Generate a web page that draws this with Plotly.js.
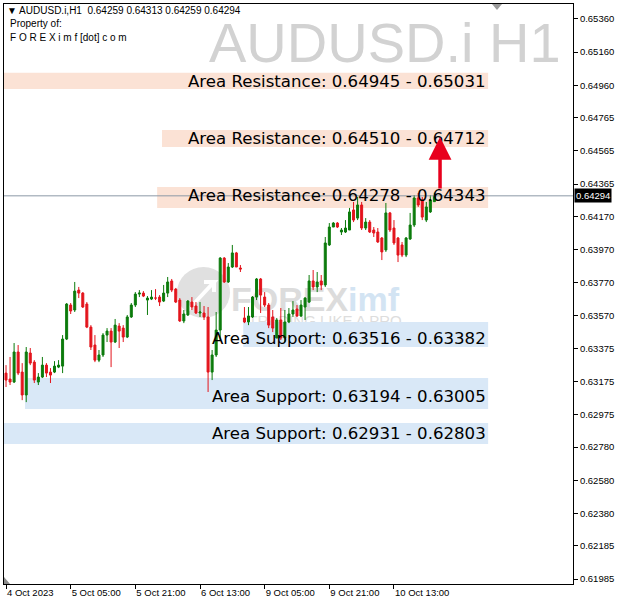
<!DOCTYPE html>
<html>
<head>
<meta charset="utf-8">
<script src="https://cdn.plot.ly/plotly-3.0.1.min.js"></script>
<style>
html,body{margin:0;padding:0;background:#fff;}
#chart{width:620px;height:606px;}
</style>
</head>
<body>
<div id="chart"></div>
<script>
// ---- data (AUDUSD.i H1, bar index 0 = 4 Oct 2023 13:00) ----
const openP = [
0.63226,0.63190,0.63172,0.63353,0.63232,0.63094,0.63347,0.63292,0.63172,0.63202,
0.63274,0.63232,0.63232,0.63262,0.63268,0.63431,0.63636,0.63606,0.63726,0.63708,
0.63642,0.63503,0.63395,0.63304,0.63335,0.63455,0.63479,0.63413,0.63509,0.63497,
0.63443,0.63564,0.63636,0.63702,0.63708,0.63666,0.63672,0.63678,0.63684,0.63660,
0.63708,0.63781,0.63732,0.63666,0.63540,0.63576,0.63654,0.63630,0.63588,0.63588,
0.63564,0.63232,0.63335,0.63485,0.63919,0.63775,0.63865,0.63950,0.63859,0.63558,
0.63534,0.63564,0.63684,0.63793,0.63684,0.63636,0.63564,0.63437,0.63546,0.63437,
0.63534,0.63582,0.63612,0.63570,0.63624,0.63654,0.63781,0.63745,0.63781,0.63757,
0.63998,0.64106,0.64130,0.64076,0.64076,0.64088,0.64209,0.64160,0.64239,0.64100,
0.64136,0.64088,0.64076,0.64040,0.63968,0.64191,0.64100,0.64040,0.63998,0.63937,
0.64034,0.64118,0.64281,0.64269,0.64148,0.64197,0.64259];
const highP = [
0.63274,0.63323,0.63407,0.63395,0.63286,0.63383,0.63377,0.63304,0.63226,0.63323,
0.63286,0.63256,0.63298,0.63304,0.63455,0.63648,0.63648,0.63775,0.63745,0.63714,
0.63654,0.63515,0.63455,0.63365,0.63467,0.63497,0.63497,0.63552,0.63527,0.63515,
0.63576,0.63648,0.63714,0.63726,0.63720,0.63690,0.63726,0.63732,0.63696,0.63757,
0.63805,0.63793,0.63739,0.63678,0.63606,0.63666,0.63684,0.63654,0.63654,0.63630,
0.63624,0.63365,0.63594,0.63925,0.63925,0.63889,0.63998,0.63956,0.63877,0.63624,
0.63624,0.63690,0.63799,0.63799,0.63714,0.63648,0.63606,0.63558,0.63618,0.63606,
0.63618,0.63660,0.63636,0.63666,0.63684,0.63817,0.63847,0.63835,0.63817,0.64046,
0.64130,0.64136,0.64136,0.64100,0.64148,0.64221,0.64257,0.64287,0.64257,0.64160,
0.64148,0.64106,0.64100,0.64046,0.64251,0.64197,0.64148,0.64046,0.64016,0.64046,
0.64191,0.64299,0.64311,0.64287,0.64257,0.64299,0.64313];
const lowP = [
0.63142,0.63154,0.63166,0.63214,0.63063,0.63051,0.63274,0.63166,0.63154,0.63196,
0.63202,0.63166,0.63226,0.63256,0.63226,0.63425,0.63582,0.63594,0.63678,0.63618,
0.63497,0.63365,0.63292,0.63292,0.63323,0.63413,0.63262,0.63407,0.63377,0.63413,
0.63437,0.63558,0.63624,0.63684,0.63684,0.63576,0.63666,0.63666,0.63630,0.63654,
0.63684,0.63714,0.63648,0.63534,0.63527,0.63570,0.63606,0.63582,0.63564,0.63546,
0.63112,0.63184,0.63323,0.63425,0.63769,0.63769,0.63859,0.63865,0.63835,0.63527,
0.63515,0.63558,0.63666,0.63588,0.63624,0.63497,0.63473,0.63437,0.63425,0.63413,
0.63527,0.63564,0.63564,0.63564,0.63546,0.63648,0.63726,0.63714,0.63726,0.63745,
0.63992,0.64106,0.64100,0.64058,0.64070,0.64088,0.64136,0.64148,0.64088,0.64088,
0.64070,0.64046,0.64010,0.63907,0.63956,0.64076,0.63998,0.63895,0.63925,0.63925,
0.64028,0.64106,0.64227,0.64148,0.64136,0.64191,0.64259];
const closeP = [
0.63184,0.63172,0.63353,0.63226,0.63094,0.63353,0.63286,0.63184,0.63202,0.63274,
0.63226,0.63214,0.63268,0.63274,0.63431,0.63642,0.63600,0.63720,0.63708,0.63624,
0.63503,0.63383,0.63304,0.63335,0.63455,0.63479,0.63413,0.63515,0.63479,0.63443,
0.63564,0.63636,0.63702,0.63708,0.63690,0.63678,0.63684,0.63678,0.63654,0.63708,
0.63775,0.63726,0.63654,0.63540,0.63582,0.63660,0.63624,0.63588,0.63594,0.63564,
0.63232,0.63335,0.63485,0.63919,0.63775,0.63865,0.63950,0.63865,0.63853,0.63534,
0.63570,0.63684,0.63793,0.63696,0.63636,0.63515,0.63497,0.63546,0.63437,0.63534,
0.63582,0.63606,0.63570,0.63636,0.63678,0.63781,0.63745,0.63775,0.63757,0.64010,
0.64106,0.64130,0.64106,0.64088,0.64100,0.64197,0.64148,0.64239,0.64100,0.64136,
0.64076,0.64070,0.64016,0.63956,0.64191,0.64088,0.64010,0.63937,0.63937,0.64040,
0.64118,0.64281,0.64239,0.64166,0.64227,0.64269,0.64294];

// x-axis tick labels (bar index -> label)
const xTickIdx  = [0, 16, 32, 48, 64, 80, 96];
const xTickText = ["4 Oct 2023","5 Oct 05:00","5 Oct 21:00","6 Oct 13:00","9 Oct 05:00","9 Oct 21:00","10 Oct 13:00"];

// y-axis price ticks
const yTicks = [0.65360,0.65160,0.64960,0.64765,0.64565,0.64365,0.64170,0.63970,0.63770,
                0.63570,0.63375,0.63175,0.62975,0.62780,0.62580,0.62380,0.62185,0.61985];

// support / resistance areas
const bandKind   = ["R","R","R","S","S","S"];
const bandStart  = [-0.5, 38.6, 37.4, 58.7, 4.7, -0.5];   // bar index where the area starts
const bandEnd    = [119.3,119.3,119.3,119.3,119.3,119.3];
const bandLow    = [0.64938,0.64589,0.64221,0.63383,0.63009,0.62799];
const bandHigh   = [0.65035,0.64691,0.64347,0.63534,0.63196,0.62925];
const labelA     = ["0.64945","0.64510","0.64278","0.63516","0.63194","0.62931"];
const labelB     = ["0.65031","0.64712","0.64343","0.63382","0.63005","0.62803"];

// projected move arrow
const arrowIdx  = 107.4;
const arrowFrom = 0.64329;
const arrowTo   = 0.64649;

// ---- build ----
const N = openP.length;
const xs = openP.map((_, i) => i);
const last = N - 1;
const fmt = v => v.toFixed(5);

const GREEN = '#0c7b0c', RED = '#e3141c';
const trace = {
  type: 'candlestick', x: xs, open: openP, high: highP, low: lowP, close: closeP,
  increasing: {line: {color: GREEN, width: 1}, fillcolor: GREEN},
  decreasing: {line: {color: RED, width: 1}, fillcolor: RED},
  whiskerwidth: 0, hoverinfo: 'skip', showlegend: false
};

const PW = 569, PH = 580; // plot area size in px
const px = x => (x - 4) / PW;
const py = y => 1 - (y - 4) / PH;

const shapes = [];
for (let i = 0; i < bandLow.length; i++) {
  shapes.push({type: 'rect', xref: 'x', yref: 'y', x0: bandStart[i], x1: bandEnd[i],
    y0: bandLow[i], y1: bandHigh[i], layer: 'below', line: {width: 0},
    fillcolor: bandKind[i] === 'R' ? '#fbe2d5' : '#d9e8f7'});
}
// watermark logo
shapes.push({type: 'circle', xref: 'paper', yref: 'paper', x0: px(177), x1: px(230), y0: py(318), y1: py(267),
  layer: 'below', line: {width: 0}, fillcolor: '#e0e0e0'});
shapes.push({type: 'path', xref: 'paper', yref: 'paper', layer: 'below',
  path: `M ${px(188)},${py(310)} L ${px(214)},${py(282)} L ${px(204)},${py(282)} M ${px(214)},${py(282)} L ${px(214)},${py(292)}`,
  line: {color: '#ffffff', width: 4}});
shapes.push({type: 'rect', xref: 'paper', yref: 'paper', x0: px(228), x1: px(402), y0: py(311), y1: py(281),
  layer: 'below', line: {width: 0}, fillcolor: 'rgba(0,0,0,0)',
  label: {text: '<b>FOREX<span style="color:#d3e4f3">imf</span></b>', textposition: 'middle center',
          font: {family: 'Liberation Sans, Arial, sans-serif', size: 34, color: '#dcdcdc'}}});
shapes.push({type: 'rect', xref: 'paper', yref: 'paper', x0: px(246), x1: px(404), y0: py(326), y1: py(312),
  layer: 'below', line: {width: 0}, fillcolor: 'rgba(0,0,0,0)',
  label: {text: 'TRADING LIKE A PRO', textposition: 'middle center',
          font: {family: 'Liberation Sans, Arial, sans-serif', size: 15, color: '#dddddd'}}});
// current price line
shapes.push({type: 'line', xref: 'paper', yref: 'y', x0: 0, x1: 1, y0: closeP[last], y1: closeP[last],
  layer: 'above', line: {color: '#8b98a6', width: 1}});
// chart shift marker
shapes.push({type: 'path', xref: 'paper', yref: 'paper', layer: 'above',
  path: `M ${px(492)},${py(4)} L ${px(502)},${py(4)} L ${px(497)},${py(10)} Z`,
  fillcolor: '#9a9a9a', line: {width: 0}});
shapes.push({type: 'path', xref: 'paper', yref: 'paper', layer: 'above',
  path: `M ${px(4)},${py(577)} L ${px(4)},${py(584)} L ${px(10)},${py(584)} Z`,
  fillcolor: '#8c8c8c', line: {width: 0}});

const annotations = [];
const labelShift = [-1, 0, 2.5, -4.5, -2.5, 0];
for (let i = 0; i < bandLow.length; i++) {
  annotations.push({xref: 'x', yref: 'y', x: 119.2, y: (bandLow[i] + bandHigh[i]) / 2,
    xanchor: 'right', yanchor: 'middle', yshift: labelShift[i], showarrow: false,
    text: (bandKind[i] === 'R' ? 'Area Resistance: ' : 'Area Support: ') + labelA[i] + ' - ' + labelB[i],
    font: {family: 'DejaVu Sans, sans-serif', size: 16.6, color: '#000'}});
}
annotations.push({xref: 'x', yref: 'y', x: arrowIdx, y: arrowTo, ax: arrowIdx, ay: arrowFrom,
  axref: 'x', ayref: 'y', text: '', showarrow: true, arrowhead: 2, arrowsize: 1.3,
  arrowwidth: 3.5, arrowcolor: '#e8001d'});
// big symbol watermark
annotations.push({xref: 'paper', yref: 'paper', x: px(562), y: py(42), xanchor: 'right', yanchor: 'middle',
  showarrow: false, text: 'AUDUSD.i H1', borderpad: 0,
  font: {family: 'Liberation Sans, Arial, sans-serif', size: 56, color: '#d2d2d2'}});
// header
const hdrFont = {family: 'Liberation Sans, Arial, sans-serif', size: 10, color: '#000'};
annotations.push({xref: 'paper', yref: 'paper', x: px(6), y: py(11), xanchor: 'left', yanchor: 'middle',
  showarrow: false, font: hdrFont, borderpad: 0,
  text: '▼ AUDUSD.i,H1  ' + [openP[last], highP[last], lowP[last], closeP[last]].map(fmt).join(' ')});
annotations.push({xref: 'paper', yref: 'paper', x: px(8), y: py(24), xanchor: 'left', yanchor: 'middle',
  showarrow: false, font: hdrFont, text: 'Property of:'});
annotations.push({xref: 'paper', yref: 'paper', x: px(8), y: py(37), xanchor: 'left', yanchor: 'middle',
  showarrow: false, font: hdrFont, text: 'F O R E X i m f [dot] c o m'});
// current price tag
annotations.push({xref: 'paper', yref: 'y', x: 1, y: closeP[last], xanchor: 'left', yanchor: 'middle',
  xshift: 1, showarrow: false, text: fmt(closeP[last]), bgcolor: '#000', borderpad: 1,
  font: {family: 'Liberation Sans, Arial, sans-serif', size: 9.5, color: '#fff'}});

const layout = {
  width: 620, height: 606,
  margin: {l: 4, r: 47, t: 4, b: 22, pad: 0},
  paper_bgcolor: '#fff', plot_bgcolor: '#fff',
  showlegend: false, dragmode: false,
  xaxis: {range: [-0.5, 140.3], tickmode: 'array', tickvals: xTickIdx, ticktext: xTickText,
    ticks: 'outside', ticklen: 4, tickcolor: '#000', ticklabelposition: 'outside right',
    tickfont: {family: 'Liberation Sans, Arial, sans-serif', size: 9.5, color: '#000'},
    showgrid: false, zeroline: false, showline: true, linecolor: '#000', linewidth: 1, mirror: true,
    rangeslider: {visible: false}, fixedrange: true},
  yaxis: {range: [0.61955, 0.65450], side: 'right', tickmode: 'array', tickvals: yTicks,
    ticktext: yTicks.map(fmt), ticks: 'outside', ticklen: 4, tickcolor: '#000',
    tickfont: {family: 'Liberation Sans, Arial, sans-serif', size: 9.5, color: '#000'},
    showgrid: false, zeroline: false, showline: true, linecolor: '#000', linewidth: 1, mirror: true,
    fixedrange: true},
  shapes: shapes, annotations: annotations
};

Plotly.newPlot('chart', [trace], layout, {displayModeBar: false, staticPlot: true});
</script>
</body>
</html>
